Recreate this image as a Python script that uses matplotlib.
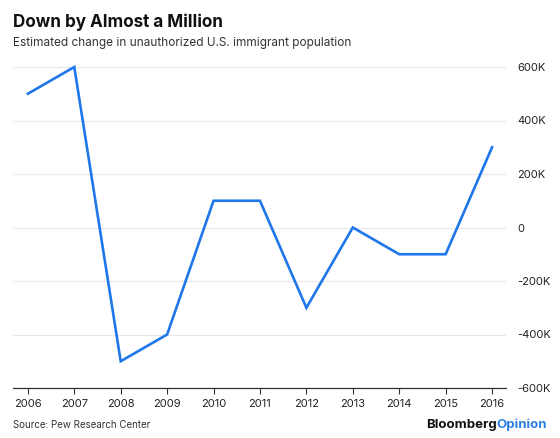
import matplotlib
matplotlib.use("Agg")
import matplotlib.pyplot as plt
from matplotlib.ticker import FuncFormatter

plt.rcParams["font.family"] = ["Inter", "DejaVu Sans"]

years = [2006, 2007, 2008, 2009, 2010, 2011, 2012, 2013, 2014, 2015, 2016]
change_k = [500, 600, -500, -400, 100, 100, -300, 0, -100, -100, 300]
y_ticks = [-600, -400, -200, 0, 200, 400, 600]

title = "Down by Almost a Million"
subtitle = "Estimated change in unauthorized U.S. immigrant population"
source = "Source: Pew Research Center"

LINE_BLUE = "#1f77ea"

def fmt_k(v, pos):
    return "0" if v == 0 else f"{int(v)}K"

fig = plt.figure(figsize=(5.6, 4.38), dpi=100)
ax = fig.add_axes([13 / 560, 50 / 438, 493 / 560, 321 / 438])

ax.plot(years, change_k, color=LINE_BLUE, lw=1.9, clip_on=False,
        solid_joinstyle="miter", zorder=3)

ax.set_xlim(2005.68, 2016.30)
ax.set_ylim(-600, 600)
ax.set_xticks(years)
ax.set_yticks(y_ticks)
ax.yaxis.set_major_formatter(FuncFormatter(fmt_k))
ax.yaxis.tick_right()

for s in ["top", "left", "right"]:
    ax.spines[s].set_visible(False)
ax.spines["bottom"].set_color("#333333")
ax.spines["bottom"].set_linewidth(0.9)

ax.grid(axis="y", color="#e8e8e8", lw=0.8)
ax.set_axisbelow(True)
ax.tick_params(axis="x", length=4, width=0.8, color="#333333",
               labelsize=8, labelcolor="#222222", pad=4)
ax.tick_params(axis="y", length=0, labelsize=8, labelcolor="#222222", pad=8)

fig.text(13 / 560, 1 - 22 / 438, title, fontsize=12.3, fontweight="bold",
         color="#111111", va="center", ha="left")
fig.text(13 / 560, 1 - 43 / 438, subtitle, fontsize=8.5,
         color="#333333", va="center", ha="left")
fig.text(13 / 560, 1 - 425 / 438, source, fontsize=7,
         color="#333333", va="center", ha="left")

t1 = fig.text(547 / 560, 1 - 425 / 438, "Opinion", fontsize=9.5,
              fontweight="bold", color="#2a7de1", va="center", ha="right")
fig.canvas.draw()
bb = t1.get_window_extent()
fig.text(bb.x0 / fig.bbox.width, 1 - 425 / 438, "Bloomberg", fontsize=9.5,
         fontweight="bold", color="#111111", va="center", ha="right")

fig.savefig("out.png", dpi=100)
